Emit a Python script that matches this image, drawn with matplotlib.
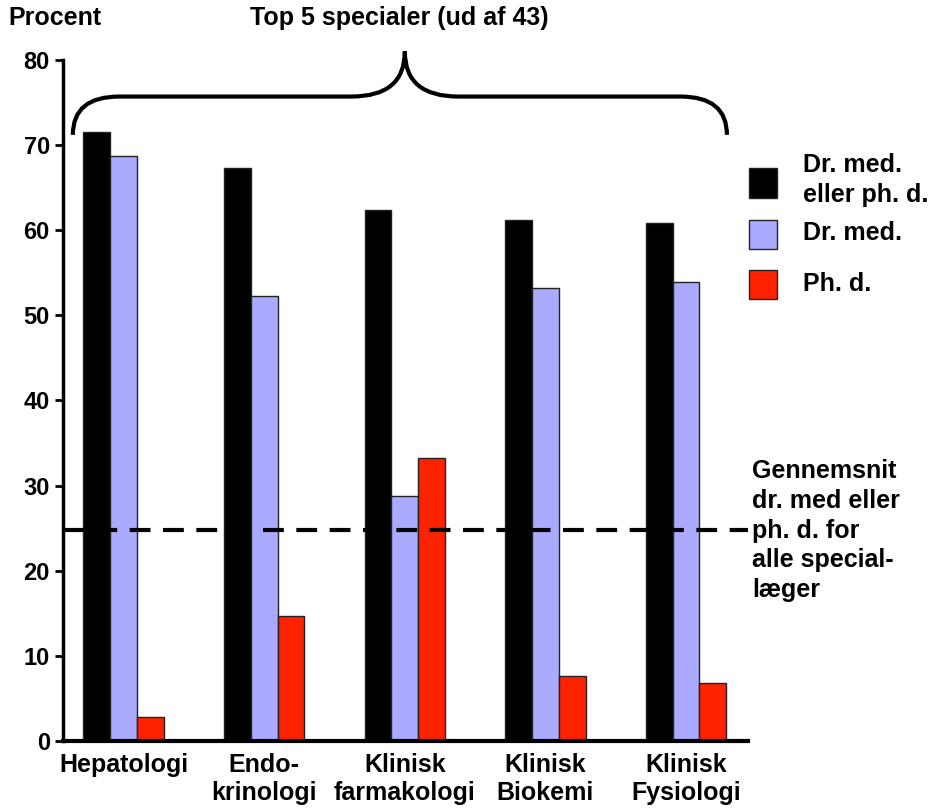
import numpy as np
import matplotlib.pyplot as plt
from matplotlib.path import Path
from matplotlib.patches import PathPatch, Rectangle

plt.rcParams['font.family'] = ['Liberation Sans', 'DejaVu Sans']
plt.rcParams['font.weight'] = 'bold'

specialer = ['Hepatologi', 'Endo-\nkrinologi', 'Klinisk\nfarmakologi', 'Klinisk\nBiokemi', 'Klinisk\nFysiologi']
dr_eller_phd = [71.5, 67.3, 62.4, 61.2, 60.8]
dr_med = [68.7, 52.3, 28.8, 53.2, 53.9]
phd = [2.8, 14.7, 33.3, 7.6, 6.8]
gennemsnit = 24.8

serier = ['Dr. med.\neller ph. d.', 'Dr. med.', 'Ph. d.']
farver = ['#000000', '#AAAAFF', '#FF2200']

fig = plt.figure(figsize=(9.32, 8.10), dpi=100)
ax = fig.add_axes([0.0676, 0.0852, 0.735, 0.8408])

x = np.arange(len(specialer))
w = 0.19
for k, (vals, c) in enumerate(zip([dr_eller_phd, dr_med, phd], farver)):
    ax.bar(x + (k - 1) * w, vals, width=w, color=c, edgecolor='#222222', linewidth=1)

ax.axhline(gennemsnit, color='black', linestyle=(0, (5, 3)), linewidth=3)

ax.set_xlim(-0.43, 4.44)
ax.set_ylim(0, 80)
ax.set_yticks(np.arange(0, 81, 10))
ax.set_xticks(x)
ax.set_xticklabels(specialer, fontsize=18, linespacing=1.2)
ax.tick_params(axis='x', length=0, pad=9)
ax.tick_params(axis='y', labelsize=17, width=2, length=6)
for s in ['top', 'right']:
    ax.spines[s].set_visible(False)
ax.spines['left'].set_linewidth(2.5)
ax.spines['bottom'].set_linewidth(3)

# krøllet parentes over søjlerne
xl, xr, xm = -0.36, 4.29, 2.0
yb, yl, yt = 71.2, 75.7, 81.0
verts = [(xl, yb), (xl, yl), (xl + 0.33, yl),
         (xm - 0.38, yl), (xm, yl), (xm, yt),
         (xm, yl), (xm + 0.38, yl),
         (xr - 0.33, yl), (xr, yl), (xr, yb)]
codes = [Path.MOVETO, Path.CURVE3, Path.CURVE3,
         Path.LINETO, Path.CURVE3, Path.CURVE3,
         Path.CURVE3, Path.CURVE3,
         Path.LINETO, Path.CURVE3, Path.CURVE3]
ax.add_patch(PathPatch(Path(verts, codes), fill=False, lw=3, color='black', clip_on=False))

fig.text(0.009, 0.978, 'Procent', fontsize=18, va='center', ha='left')
fig.text(0.428, 0.978, 'Top 5 specialer (ud af 43)', fontsize=18, va='center', ha='center')

# forklaring
ys = [0.774, 0.711, 0.649]
tys = [0.778, 0.712, 0.649]
for y, c, t, ty in zip(ys, farver, serier, tys):
    fig.patches.append(Rectangle((0.804, y - 0.018), 0.030, 0.036, transform=fig.transFigure,
                                 facecolor=c, edgecolor='#222222', lw=1))
    fig.text(0.862, ty, t, fontsize=18, va='center', ha='left', linespacing=1.3)

fig.text(0.807, 0.345, 'Gennemsnit\ndr. med eller\nph. d. for\nalle special-\nlæger',
         fontsize=18, va='center', ha='left', linespacing=1.3)

fig.savefig('out.png', dpi=100)
